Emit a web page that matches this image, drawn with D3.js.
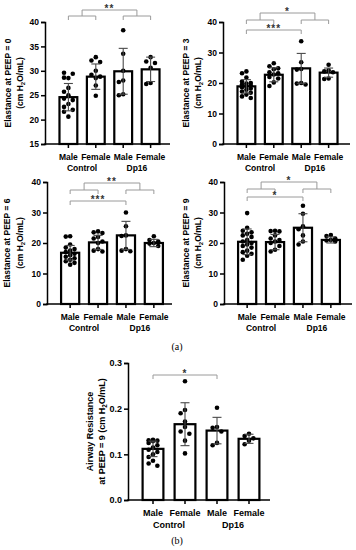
<!DOCTYPE html>
<html>
<head>
<meta charset="utf-8">
<script src="https://cdn.jsdelivr.net/npm/d3@7"></script>
<style>
  body { margin: 0; background: #fff; }
  svg { display: block; }
  text { font-family: "Liberation Sans", Arial, sans-serif; }
</style>
</head>
<body>
<div id="chart"></div>
<script>
// categories
const groups = ["Male", "Female", "Male", "Female"];
const genotypes = ["Control", "Dp16"];

// Elastance at PEEP = 0
const peep0Mean = [24.6, 28.8, 29.9, 30.3];
const peep0Sd = [2.8, 2.6, 4.7, 2.5];
const peep0Points = [
    [28.5, 28.6, 29.4, 29.6, 26.5, 25.7, 25.0, 24.3, 24.0, 23.2, 22.6, 22.0, 21.6, 20.6],
    [32.8, 32.1, 31.8, 30.0, 29.2, 28.8, 28.5, 27.0, 24.9],
    [38.3, 33.5, 30.0, 28.0, 27.7, 25.2, 25.0],
    [32.8, 31.9, 31.6, 30.6, 27.5, 27.3]
];
const peep0Sig = [{ a: [0, 1], b: [2, 3], label: "**" }];

// Elastance at PEEP = 3
const peep3Mean = [18.9, 22.7, 24.8, 23.4];
const peep3Sd = [2.2, 2.3, 4.9, 1.5];
const peep3Points = [
    [23.8, 23.2, 21.8, 20.5, 20.0, 19.8, 19.5, 19.2, 19.0, 18.6, 18.2, 17.8, 17.2, 16.8, 16.2, 15.6, 15.1],
    [26.5, 25.5, 24.8, 24.5, 23.5, 23.2, 22.8, 22.0, 21.5, 20.2, 19.0],
    [33.7, 26.8, 24.6, 24.4, 20.0, 19.8, 19.5],
    [26.0, 24.2, 23.8, 23.5, 21.5, 21.3]
];
const peep3Sig = [{ a: [0, 1], b: [2, 3], label: "*" }, { a: [0], b: [2], label: "***" }];

// Elastance at PEEP = 6
const peep6Mean = [16.8, 20.2, 22.5, 20.0];
const peep6Sd = [2.4, 2.3, 4.6, 1.2];
const peep6Points = [
    [22.2, 22.1, 19.5, 18.5, 18.0, 17.5, 17.0, 16.5, 16.0, 15.5, 15.0, 14.5, 14.0, 13.5, 12.9],
    [23.8, 23.5, 23.3, 22.0, 21.5, 20.5, 20.0, 18.0, 17.5, 17.2],
    [30.0, 25.5, 22.5, 22.3, 18.0, 17.5, 17.3],
    [22.2, 21.0, 20.5, 20.0, 19.8, 19.0]
];
const peep6Sig = [{ a: [0, 1], b: [2, 3], label: "**" }, { a: [0], b: [2], label: "***" }];

// Elastance at PEEP = 9
const peep9Mean = [20.4, 20.3, 25.0, 21.0];
const peep9Sd = [4.2, 2.5, 4.6, 1.0];
const peep9Points = [
    [29.8, 25.0, 24.0, 23.5, 23.0, 22.5, 22.0, 21.0, 20.5, 20.0, 19.5, 19.0, 18.5, 17.5, 17.0, 16.5, 15.8, 14.5],
    [24.0, 23.9, 23.8, 22.5, 21.5, 21.0, 20.5, 20.0, 19.0, 17.8, 17.2],
    [32.2, 29.6, 25.5, 24.5, 22.5, 20.5, 19.5],
    [22.6, 22.3, 21.5, 21.0, 20.8, 20.5]
];
const peep9Sig = [{ a: [0, 1], b: [2, 3], label: "*" }, { a: [0], b: [2], label: "*" }];

// Airway resistance at PEEP = 9
const resMean = [0.112, 0.166, 0.152, 0.134];
const resSd = [0.017, 0.047, 0.029, 0.010];
const resPoints = [
    [0.132, 0.131, 0.130, 0.129, 0.125, 0.120, 0.115, 0.110, 0.105, 0.100, 0.094, 0.086, 0.080, 0.075],
    [0.260, 0.197, 0.190, 0.172, 0.160, 0.150, 0.145, 0.130, 0.102],
    [0.202, 0.160, 0.158, 0.150, 0.125, 0.120],
    [0.145, 0.140, 0.135, 0.130, 0.122]
];
const resSig = [{ a: [0], b: [2], label: "*" }];

const w = 356;
const h = 550;
const dotR = 2.3;

const svg = d3.select("#chart").append("svg").attr("width", w).attr("height", h);

function swarm(ys, half) {
    // spread overlapping points sideways across the bar
    const placed = [];
    const step = dotR * 1.9;
    return ys.map(y => {
        const cands = [0];
        for (let k = 1; k * step <= half; k++) cands.push(-k * step, k * step);
        let best = 0, bestD = -1;
        for (const c of cands) {
            const d = placed.length ? d3.min(placed, p => Math.hypot(p[0] - c, p[1] - y)) : 99;
            if (d >= dotR * 2.3) { best = c; bestD = 99; break; }
            if (d > bestD) { bestD = d; best = c; }
        }
        placed.push([best, y]);
        return best;
    });
}

function drawPanel(p) {
    const g = svg.append("g");
    const x = d3.scaleBand().domain(d3.range(4)).range(p.band).paddingInner(0.35).paddingOuter(0.2);
    const y = d3.scaleLinear().domain(p.yDomain).range(p.yRange);
    const bw = x.bandwidth();
    const cx = i => x(i) + bw / 2;
    const base = y(p.yDomain[0]);

    // bars
    g.selectAll("rect.bar")
        .data(p.mean)
        .join("rect")
        .attr("x", (d, i) => x(i))
        .attr("width", bw)
        .attr("y", d => y(d))
        .attr("height", d => base - y(d))
        .attr("fill", "#fff")
        .attr("stroke", "#000")
        .attr("stroke-width", 2.2);

    // points
    p.points.forEach((vals, i) => {
        const ys = vals.map(v => y(v));
        const offs = swarm(ys, bw / 2 - dotR + 0.5);
        g.append("g").selectAll("circle")
            .data(vals)
            .join("circle")
            .attr("cx", (d, k) => cx(i) + offs[k])
            .attr("cy", d => y(d))
            .attr("r", dotR)
            .attr("fill", "#000");
    });

    // error bars (mean ± SD)
    const eb = g.append("g").attr("stroke", "#4a4a4a").attr("stroke-width", 1.1).attr("fill", "none");
    p.mean.forEach((m, i) => {
        const top = y(m + p.sd[i]), bot = y(m - p.sd[i]);
        eb.append("line").attr("x1", cx(i)).attr("x2", cx(i)).attr("y1", top).attr("y2", bot);
        eb.append("line").attr("x1", cx(i) - 4.5).attr("x2", cx(i) + 4.5).attr("y1", top).attr("y2", top);
        eb.append("line").attr("x1", cx(i) - 4.5).attr("x2", cx(i) + 4.5).attr("y1", bot).attr("y2", bot);
    });

    // y axis
    const ya = g.append("g")
        .attr("transform", `translate(${p.axisX},0)`)
        .call(d3.axisLeft(y).tickValues(p.yTicks).tickSize(4).tickPadding(2).tickFormat(p.fmt));
    ya.select(".domain").attr("stroke-width", 1.5);
    ya.selectAll(".tick line").attr("stroke-width", 1.5);
    ya.selectAll("text").attr("font-size", p.fs).attr("font-weight", "bold").attr("fill", "#000")
        .style("font-family", '"Liberation Sans", Arial, sans-serif');

    // x axis
    const xa = g.append("g")
        .attr("transform", `translate(0,${base})`)
        .call(d3.axisBottom(x).tickSize(4).tickPadding(6).tickFormat(i => groups[i]));
    xa.select(".domain").remove();
    xa.selectAll(".tick line").attr("stroke-width", 1.5);
    xa.selectAll("text").attr("font-size", p.fs).attr("font-weight", "bold").attr("fill", "#000")
        .style("font-family", '"Liberation Sans", Arial, sans-serif');
    g.append("line")
        .attr("x1", p.axisX - 0.75).attr("x2", p.xEnd)
        .attr("y1", base).attr("y2", base)
        .attr("stroke", "#000").attr("stroke-width", 1.5);

    // genotype labels
    genotypes.forEach((gt, k) => {
        g.append("text")
            .attr("x", (cx(2 * k) + cx(2 * k + 1)) / 2)
            .attr("y", base + p.groupDy)
            .attr("text-anchor", "middle")
            .attr("font-size", p.fs)
            .attr("font-weight", "bold")
            .text(gt);
    });

    // y title
    const yMid = (p.yRange[0] + p.yRange[1]) / 2;
    g.append("text")
        .attr("transform", `translate(${p.titleX[0]},${yMid}) rotate(-90)`)
        .attr("text-anchor", "middle")
        .attr("font-size", p.fs)
        .attr("font-weight", "bold")
        .text(p.title);
    const t2 = g.append("text")
        .attr("transform", `translate(${p.titleX[1]},${yMid}) rotate(-90)`)
        .attr("text-anchor", "middle")
        .attr("font-size", p.fs)
        .attr("font-weight", "bold");
    t2.append("tspan").text(p.title2 + "(cm H");
    t2.append("tspan").attr("font-size", p.fs * 0.7).attr("dy", 2).text("2");
    t2.append("tspan").attr("dy", -2).text("O/mL)");

    // significance brackets
    const br = g.append("g").attr("stroke", "#9a9a9a").attr("stroke-width", 1).attr("fill", "none");
    p.sig.forEach((s, n) => {
        let xm;
        const lv = p.levels[n];
        if (s.a.length === 2) {
            const subs = [s.a, s.b].map(pair => {
                const x1 = cx(pair[0]), x2 = cx(pair[1]);
                br.append("path").attr("d", `M${x1},${lv[1] + 4}V${lv[1]}H${x2}V${lv[1] + 4}`);
                return (x1 + x2) / 2;
            });
            br.append("path").attr("d", `M${subs[0]},${lv[1]}V${lv[0]}H${subs[1]}V${lv[1]}`);
            xm = (subs[0] + subs[1]) / 2;
        } else {
            const x1 = cx(s.a[0]), x2 = cx(s.b[0]);
            br.append("path").attr("d", `M${x1},${lv[0] + 4}V${lv[0]}H${x2}V${lv[0] + 4}`);
            xm = (x1 + x2) / 2;
        }
        g.append("text")
            .attr("x", xm)
            .attr("y", lv[0] + 2)
            .attr("text-anchor", "middle")
            .attr("font-size", 10)
            .attr("font-weight", "bold")
            .attr("fill", "#333")
            .attr("letter-spacing", 1)
            .text(s.label);
    });
}

const fmtInt = d3.format("d");

drawPanel({
    mean: peep0Mean, sd: peep0Sd, points: peep0Points, sig: peep0Sig,
    yDomain: [15, 40], yTicks: [15, 20, 25, 30, 35, 40], fmt: fmtInt,
    yRange: [144, 22], band: [54, 165], axisX: 45, xEnd: 170, fs: 8.5, groupDy: 27,
    title: "Elastance at PEEP = 0", title2: "", titleX: [11, 23],
    levels: [[10, 16]]
});

drawPanel({
    mean: peep3Mean, sd: peep3Sd, points: peep3Points, sig: peep3Sig,
    yDomain: [0, 40], yTicks: [0, 10, 20, 30, 40], fmt: fmtInt,
    yRange: [144, 22], band: [232, 343], axisX: 223, xEnd: 350, fs: 8.5, groupDy: 27,
    title: "Elastance at PEEP = 3", title2: "", titleX: [189, 201],
    levels: [[13, 20], [30]]
});

drawPanel({
    mean: peep6Mean, sd: peep6Sd, points: peep6Points, sig: peep6Sig,
    yDomain: [0, 40], yTicks: [0, 10, 20, 30, 40], fmt: fmtInt,
    yRange: [304, 182], band: [55.5, 168.5], axisX: 47, xEnd: 172, fs: 8.5, groupDy: 27,
    title: "Elastance at PEEP = 6", title2: "", titleX: [10, 23],
    levels: [[183, 190], [201]]
});

drawPanel({
    mean: peep9Mean, sd: peep9Sd, points: peep9Points, sig: peep9Sig,
    yDomain: [0, 40], yTicks: [0, 10, 20, 30, 40], fmt: fmtInt,
    yRange: [304, 182], band: [232.5, 345.5], axisX: 224, xEnd: 352, fs: 8.5, groupDy: 27,
    title: "Elastance at PEEP = 9", title2: "", titleX: [189, 201],
    levels: [[182, 189], [197]]
});

drawPanel({
    mean: resMean, sd: resSd, points: resPoints, sig: resSig,
    yDomain: [0, 0.3], yTicks: [0, 0.1, 0.2, 0.3], fmt: d3.format(".1f"),
    yRange: [500, 363], band: [136.2, 265.8], axisX: 128, xEnd: 270, fs: 9, groupDy: 28,
    title: "Airway Resistance", title2: "at PEEP = 9 ", titleX: [93, 105],
    levels: [[375]]
});

// panel letters
[["(a)", 350], ["(b)", 544]].forEach(([t, yy]) => {
    svg.append("text")
        .attr("x", 177)
        .attr("y", yy)
        .attr("text-anchor", "middle")
        .attr("font-size", 10)
        .style("font-family", '"Liberation Serif", "Times New Roman", serif')
        .text(t);
});
</script>
</body>
</html>
